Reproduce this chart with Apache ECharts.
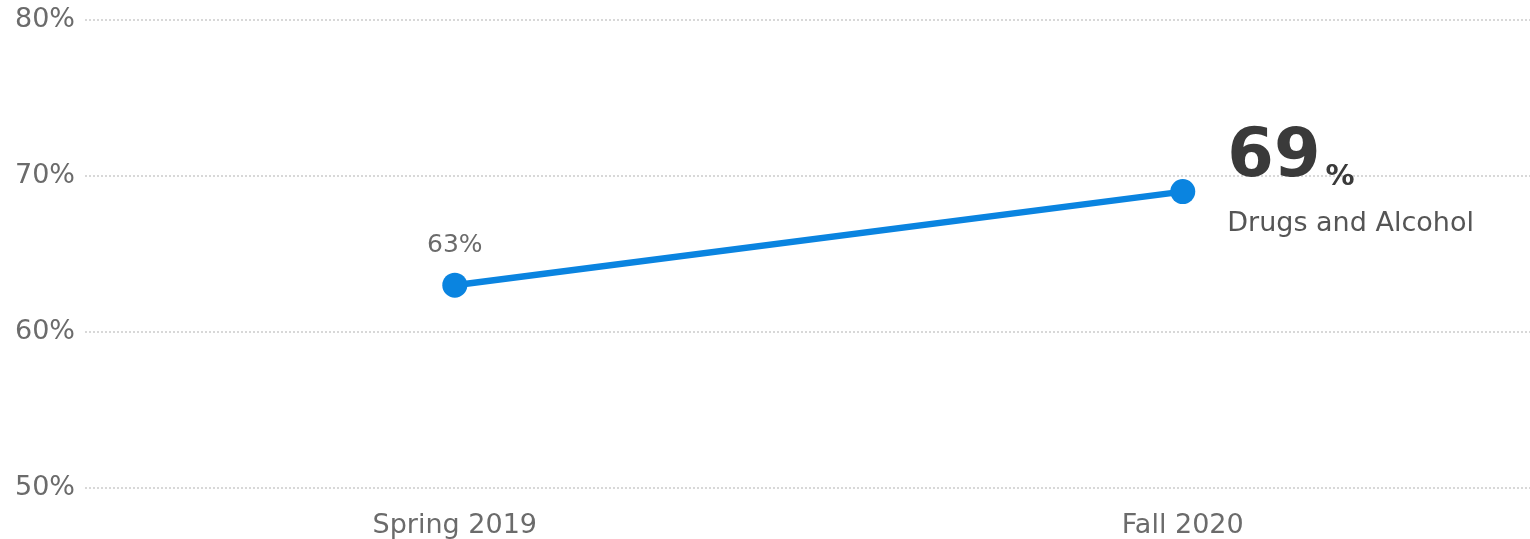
<!DOCTYPE html>
<html><head><meta charset="utf-8">
<script src="https://cdn.jsdelivr.net/npm/echarts@6/dist/echarts.min.js"></script>
<style>html,body{margin:0;padding:0;background:#fff}#c{width:1530px;height:539px}</style>
</head><body><div id="c"></div>
<script>
const categories = ['Spring 2019', 'Fall 2020'];
const values = [63, 69];
const seriesName = 'Drugs and Alcohol';
const yTicks = [50, 60, 70, 80];

const chart = echarts.init(document.getElementById('c'));
const font = 'DejaVu Sans';
chart.setOption({
  animation: false,
  grid: {left: 85, right: 0, top: 20, bottom: 51, containLabel: false},
  xAxis: {
    type: 'value', min: -0.508, max: 1.477,
    splitLine: {show: false},
    axisLine: {show: false}, axisTick: {show: false, customValues: categories.map((c, i) => i)},
    axisLabel: {
      customValues: categories.map((c, i) => i),
      formatter: (v) => categories[Math.round(v)] || '',
      color: '#6b6b6b', fontSize: 27, fontFamily: font, margin: 24
    }
  },
  yAxis: {
    type: 'value', min: yTicks[0], max: yTicks[yTicks.length - 1], interval: 10,
    axisLine: {show: false}, axisTick: {show: false},
    axisLabel: {formatter: '{value}%', color: '#6b6b6b', fontSize: 27, fontFamily: font, align: 'left', margin: 70},
    splitLine: {lineStyle: {type: 'dotted', color: '#d8d8d8', width: 2}}
  },
  series: [{
    type: 'line', name: seriesName,
    data: values.map((v, i) => {
      const last = i === values.length - 1;
      return {
        value: [i, v],
        label: last ? {
          show: true, position: 'right', distance: 32, offset: [0, -1],
          formatter: () => '{big|' + v + '}{pct|%}\n{sub|' + seriesName + '}',
          rich: {
            big: {fontSize: 67, fontWeight: 'bold', color: '#3a3a3a', fontFamily: font, lineHeight: 66, verticalAlign: 'bottom'},
            pct: {fontSize: 29, fontWeight: 'bold', color: '#3a3a3a', fontFamily: font, verticalAlign: 'bottom', lineHeight: 34, padding: [0, 0, 0, 5]},
            sub: {fontSize: 27, color: '#555', fontFamily: font, lineHeight: 64}
          }
        } : {
          show: true, position: 'top', distance: 15,
          formatter: v + '%', color: '#6b6b6b', fontSize: 25, fontFamily: font
        }
      };
    }),
    symbol: 'circle', symbolSize: 25,
    lineStyle: {color: '#0a84e0', width: 6.5},
    itemStyle: {color: '#0a84e0'}
  }]
});
</script></body></html>
